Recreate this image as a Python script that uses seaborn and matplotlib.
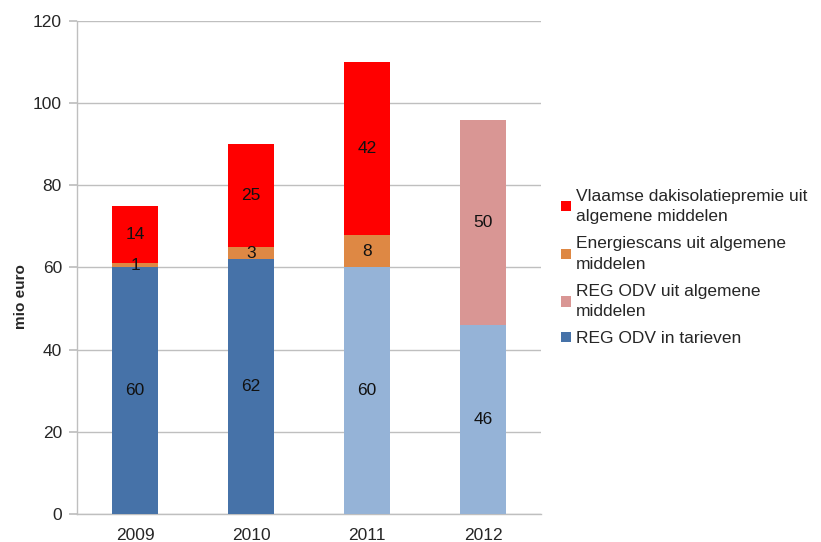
import matplotlib
matplotlib.use("Agg")
import matplotlib.pyplot as plt
from matplotlib.patches import Patch
import numpy as np
import pandas as pd
import seaborn as sns

years = ["2009", "2010", "2011", "2012"]
odv_tarieven = [60, 62, 60, 46]
odv_algemeen = [0, 0, 0, 50]
energiescans = [1, 3, 8, 0]
dakisolatie = [14, 25, 42, 0]

series_names = [
    "REG ODV in tarieven",
    "REG ODV uit algemene\nmiddelen",
    "Energiescans uit algemene\nmiddelen",
    "Vlaamse dakisolatiepremie uit\nalgemene middelen",
]
series_values = [odv_tarieven, odv_algemeen, energiescans, dakisolatie]
series_colors = ["#4672A8", "#D99694", "#DE8844", "#FF0000"]
base_colors = ["#4672A8", "#4672A8", "#95B3D7", "#95B3D7"]

sns.set_theme(style="white")
plt.rcParams["font.family"] = ["Liberation Sans", "DejaVu Sans"]

fig = plt.figure(figsize=(8.21, 5.42), dpi=100)
ax = fig.add_axes([0.094, 0.052, 0.565, 0.909])

# cumulative tops, draw from top layer down so lower layers cover upper ones
vals = np.array(series_values, dtype=float)
cum = np.cumsum(vals, axis=0)
for i in range(len(series_names) - 1, -1, -1):
    df = pd.DataFrame({"jaar": years, "waarde": cum[i]})
    if i == 0:
        sns.barplot(data=df, x="jaar", y="waarde", hue="jaar", palette=base_colors,
                    width=0.4, legend=False, ax=ax, zorder=3, linewidth=0,
                    saturation=1)
    else:
        sns.barplot(data=df, x="jaar", y="waarde", color=series_colors[i],
                    width=0.4, ax=ax, zorder=3, linewidth=0, saturation=1)
for p in ax.patches:
    p.set_linewidth(0)

# labels in the middle of each segment
for i in range(len(series_names)):
    for j in range(len(years)):
        v = vals[i, j]
        if v <= 0:
            continue
        mid = cum[i, j] - v / 2
        ax.text(j, mid, f"{int(v)}", ha="center", va="center", fontsize=12.5,
                color="#111111", zorder=5)

ax.set_ylim(0, 120)
ax.set_xlim(-0.5, 3.5)
ax.set_yticks(range(0, 121, 20))
ax.yaxis.grid(True, color="#BFBFBF", linewidth=1, zorder=0)
ax.set_axisbelow(True)
ax.set_xlabel("")
ax.set_ylabel("mio euro", fontsize=11, fontweight="bold")
ax.yaxis.set_label_coords(-0.105, 0.44)
ax.tick_params(axis="y", which="major", left=True, length=6, color="#BFBFBF",
               labelsize=12.5, pad=5)
ax.tick_params(axis="x", which="major", bottom=False, labelsize=12.5, pad=4)
for s in ["top", "right"]:
    ax.spines[s].set_visible(False)
for s in ["left", "bottom"]:
    ax.spines[s].set_color("#BFBFBF")
    ax.spines[s].set_linewidth(1)

handles = [Patch(facecolor=series_colors[i], edgecolor="none", label=series_names[i])
           for i in range(len(series_names) - 1, -1, -1)]
leg = ax.legend(handles=handles, loc="center left", bbox_to_anchor=(1.01, 0.5),
                frameon=False, fontsize=12.5, handlelength=0.55, handleheight=0.55,
                handletextpad=0.3, labelspacing=0.7)
for t in leg.get_texts():
    t.set_linespacing(1.45)

fig.savefig("out.png", dpi=100)
